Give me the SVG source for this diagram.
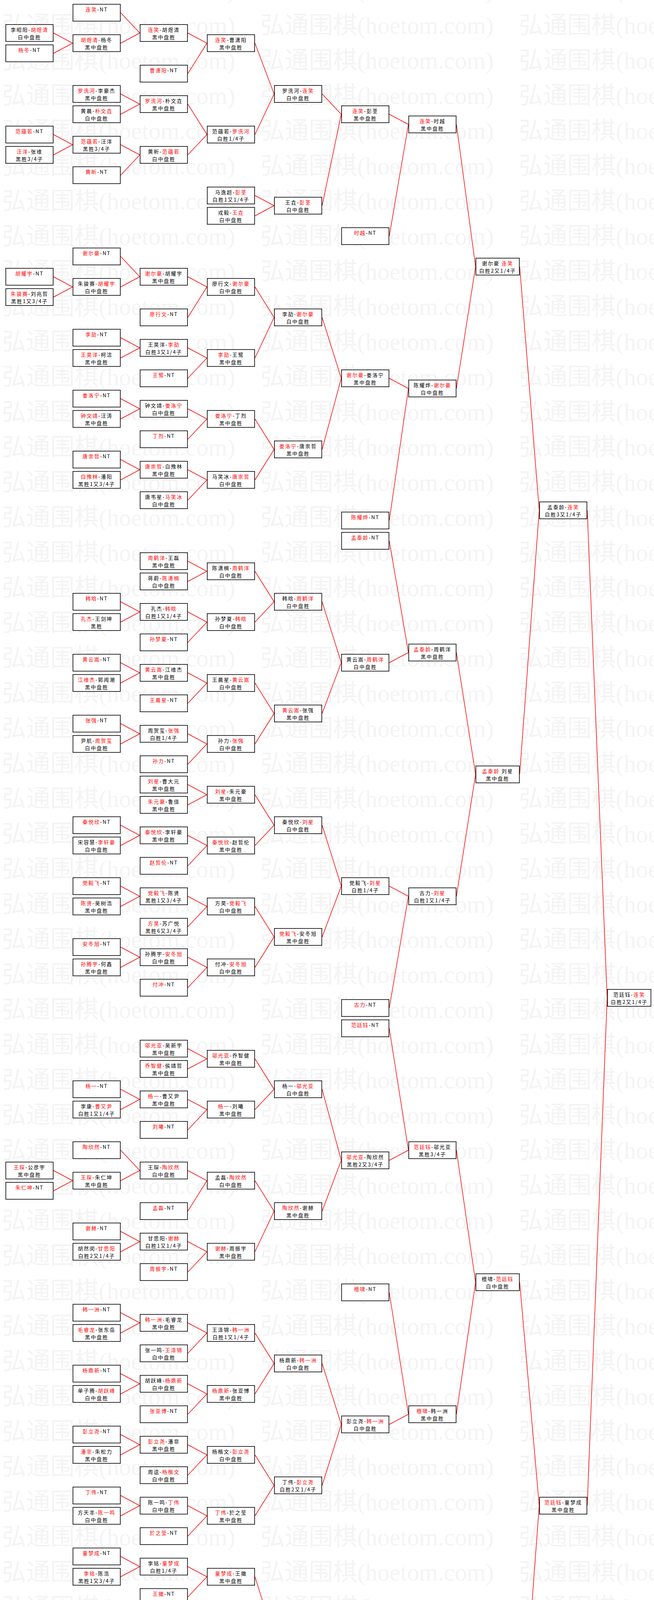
<svg xmlns="http://www.w3.org/2000/svg" width="1675" height="5109" viewBox="0 0 1675 5109">
<style>
.b{fill:#fff;stroke:#000;stroke-width:1.6}
.t{font-family:"Noto Sans CJK SC","Liberation Sans",sans-serif;font-size:13px;letter-spacing:2px;text-anchor:middle;fill:#000}
.r{fill:#f00}
.w{font-family:"Liberation Serif","Noto Sans CJK SC",serif;font-size:62px;fill:#f4f4f4}
#connectors path{fill:none;stroke:#f00;stroke-width:1.5}
</style>
<defs>
<pattern id="wm" x="0" y="30" width="662" height="90" patternUnits="userSpaceOnUse"><text class="w" x="5" y="56">弘通围棋(hoetom.com)</text></pattern>
</defs>
<rect width="1675" height="5109" fill="#fff"/>
<rect width="1675" height="5109" fill="url(#wm)"/>
<g id="connectors">
<path d="M137 84.5L186 110.5L137 136.5"/>
<path d="M137 344.5L186 370.5L137 396.5"/>
<path d="M137 708.5L186 734.5L137 760.5"/>
<path d="M137 2996.5L186 3022.5L137 3048.5"/>
<path d="M137 4140.5L186 4166.5L137 4192.5"/>
<path d="M137 4296.5L186 4322.5L137 4348.5"/>
<path d="M309 32.5L358 84.5L309 110.5"/>
<path d="M309 240.5L358 266.5L309 292.5"/>
<path d="M309 370.5L358 396.5L309 448.5"/>
<path d="M309 656.5L358 708.5L309 734.5"/>
<path d="M309 864.5L358 890.5L309 916.5"/>
<path d="M309 1020.5L358 1046.5L309 1072.5"/>
<path d="M309 1176.5L358 1202.5L309 1228.5"/>
<path d="M309 1540.5L358 1566.5L309 1592.5"/>
<path d="M309 1696.5L358 1722.5L309 1748.5"/>
<path d="M309 1852.5L358 1878.5L309 1904.5"/>
<path d="M309 2112.5L358 2138.5L309 2164.5"/>
<path d="M309 2268.5L358 2294.5L309 2320.5"/>
<path d="M309 2424.5L358 2450.5L309 2476.5"/>
<path d="M309 2788.5L358 2814.5L309 2840.5"/>
<path d="M309 2944.5L358 2996.5L309 3022.5"/>
<path d="M309 3152.5L358 3178.5L309 3204.5"/>
<path d="M309 3360.5L358 3386.5L309 3412.5"/>
<path d="M309 3516.5L358 3542.5L309 3568.5"/>
<path d="M309 3672.5L358 3698.5L309 3724.5"/>
<path d="M309 3828.5L358 3854.5L309 3880.5"/>
<path d="M309 3984.5L358 4010.5L309 4036.5"/>
<path d="M309 4166.5L358 4192.5L309 4244.5"/>
<path d="M309 4322.5L358 4348.5L309 4400.5"/>
<path d="M481 84.5L530 110.5L481 188.5"/>
<path d="M481 266.5L530 344.5L481 396.5"/>
<path d="M481 708.5L530 734.5L481 812.5"/>
<path d="M481 890.5L530 916.5L481 968.5"/>
<path d="M481 1046.5L530 1072.5L481 1124.5"/>
<path d="M481 1202.5L530 1228.5L481 1280.5"/>
<path d="M481 1436.5L530 1462.5L481 1488.5"/>
<path d="M481 1566.5L530 1592.5L481 1644.5"/>
<path d="M481 1722.5L530 1748.5L481 1800.5"/>
<path d="M481 1878.5L530 1904.5L481 1956.5"/>
<path d="M481 2008.5L530 2034.5L481 2060.5"/>
<path d="M481 2138.5L530 2164.5L481 2216.5"/>
<path d="M481 2294.5L530 2320.5L481 2372.5"/>
<path d="M481 2450.5L530 2476.5L481 2528.5"/>
<path d="M481 2684.5L530 2710.5L481 2736.5"/>
<path d="M481 2814.5L530 2840.5L481 2892.5"/>
<path d="M481 2996.5L530 3022.5L481 3100.5"/>
<path d="M481 3178.5L530 3204.5L481 3256.5"/>
<path d="M481 3386.5L530 3412.5L481 3464.5"/>
<path d="M481 3542.5L530 3568.5L481 3620.5"/>
<path d="M481 3698.5L530 3724.5L481 3776.5"/>
<path d="M481 3854.5L530 3880.5L481 3932.5"/>
<path d="M481 4010.5L530 4036.5L481 4088.5"/>
<path d="M481 4192.5L530 4270.5L481 4348.5"/>
<path d="M481 4452.5L530 4478.5L481 4504.5"/>
<path d="M481 4660.5L530 4686.5L481 4712.5"/>
<path d="M481 4764.5L530 4790.5L481 4816.5"/>
<path d="M481 4868.5L530 4894.5L481 4920.5"/>
<path d="M481 4972.5L530 4998.5L481 5024.5"/>
<path d="M653 110.5L702 240.5L653 344.5"/>
<path d="M653 500.5L702 526.5L653 552.5"/>
<path d="M653 734.5L702 812.5L653 916.5"/>
<path d="M653 1072.5L702 1150.5L653 1228.5"/>
<path d="M653 1462.5L702 1540.5L653 1592.5"/>
<path d="M653 1748.5L702 1826.5L653 1904.5"/>
<path d="M653 2034.5L702 2112.5L653 2164.5"/>
<path d="M653 2320.5L702 2398.5L653 2476.5"/>
<path d="M653 2710.5L702 2788.5L653 2840.5"/>
<path d="M653 3022.5L702 3100.5L653 3204.5"/>
<path d="M653 3412.5L702 3490.5L653 3568.5"/>
<path d="M653 3724.5L702 3802.5L653 3880.5"/>
<path d="M653 4036.5L702 4192.5L653 4270.5"/>
<path d="M653 4478.5L702 4504.5L653 4556.5"/>
<path d="M653 4686.5L702 4738.5L653 4790.5"/>
<path d="M653 4894.5L702 4946.5L653 4998.5"/>
<path d="M825 240.5L874 292.5L825 526.5"/>
<path d="M825 812.5L874 968.5L825 1150.5"/>
<path d="M825 1540.5L874 1696.5L825 1826.5"/>
<path d="M825 2112.5L874 2268.5L825 2398.5"/>
<path d="M825 2788.5L874 2970.5L825 3100.5"/>
<path d="M825 3490.5L874 3646.5L825 3802.5"/>
<path d="M825 4192.5L874 4270.5L825 4504.5"/>
<path d="M825 4738.5L874 4842.5L825 4946.5"/>
<path d="M997 292.5L1046 318.5L997 604.5"/>
<path d="M997 968.5L1046 994.5L997 1332.5"/>
<path d="M997 1384.5L1046 1670.5L997 1696.5"/>
<path d="M997 2268.5L1046 2294.5L997 2580.5"/>
<path d="M997 2632.5L1046 2944.5L997 2970.5"/>
<path d="M997 3308.5L1046 3620.5L997 3646.5"/>
<path d="M997 4270.5L1046 4296.5L997 4608.5"/>
<path d="M997 4842.5L1046 4868.5L997 5076.5"/>
<path d="M1169 318.5L1218 682.5L1169 994.5"/>
<path d="M1169 1670.5L1218 1982.5L1169 2294.5"/>
<path d="M1169 2944.5L1218 3282.5L1169 3620.5"/>
<path d="M1169 4296.5L1218 4530.5L1169 4868.5"/>
<path d="M1331 682.5L1381 1306.5L1331 1982.5"/>
<path d="M1331 3282.5L1381 3854.5L1331 4530.5"/>
<path d="M1504 1306.5L1555 2554.5L1504 3854.5"/>
</g>
<!-- Column A -->
<g id="A2" transform="translate(14,62)"><rect class="b" x=".8" y=".8" width="121.4" height="43.4"/><text class="t" x="61.5" y="19">李昭阳-<tspan class="r">胡煜清</tspan></text><text class="t" x="61.5" y="38">白中盘胜</text></g>
<g id="A4" transform="translate(14,114)"><rect class="b" x=".8" y=".8" width="121.4" height="43.4"/><text class="t" x="61.5" y="19"><tspan class="r">杨冬</tspan>-NT</text></g>
<g id="A12" transform="translate(14,322)"><rect class="b" x=".8" y=".8" width="121.4" height="43.4"/><text class="t" x="61.5" y="19"><tspan class="r">范蕴若</tspan>-NT</text></g>
<g id="A14" transform="translate(14,374)"><rect class="b" x=".8" y=".8" width="121.4" height="43.4"/><text class="t" x="61.5" y="19"><tspan class="r">汪洋</tspan>-张维</text><text class="t" x="61.5" y="38">黑胜3/4子</text></g>
<g id="A26" transform="translate(14,686)"><rect class="b" x=".8" y=".8" width="121.4" height="43.4"/><text class="t" x="61.5" y="19"><tspan class="r">胡耀宇</tspan>-NT</text></g>
<g id="A28" transform="translate(14,738)"><rect class="b" x=".8" y=".8" width="121.4" height="43.4"/><text class="t" x="61.5" y="19"><tspan class="r">朱骏赛</tspan>-刘兆哲</text><text class="t" x="61.5" y="38">黑胜1又3/4子</text></g>
<g id="A114" transform="translate(14,2974)"><rect class="b" x=".8" y=".8" width="121.4" height="43.4"/><text class="t" x="61.5" y="19"><tspan class="r">王琛</tspan>-公彦宇</text><text class="t" x="61.5" y="38">黑中盘胜</text></g>
<g id="A116" transform="translate(14,3026)"><rect class="b" x=".8" y=".8" width="121.4" height="43.4"/><text class="t" x="61.5" y="19"><tspan class="r">朱仁坤</tspan>-NT</text></g>
<g id="A158" transform="translate(14,4118)"><rect class="b" x=".8" y=".8" width="121.4" height="43.4"/><text class="t" x="61.5" y="19"><tspan class="r">郑淼鑫</tspan>-NT</text></g>
<g id="A160" transform="translate(14,4170)"><rect class="b" x=".8" y=".8" width="121.4" height="43.4"/><text class="t" x="61.5" y="19"><tspan class="r">张学斌</tspan>-崔灿</text><text class="t" x="61.5" y="38">黑中盘胜</text></g>
<g id="A164" transform="translate(14,4274)"><rect class="b" x=".8" y=".8" width="121.4" height="43.4"/><text class="t" x="61.5" y="19"><tspan class="r">杨啸天</tspan>-NT</text></g>
<g id="A166" transform="translate(14,4326)"><rect class="b" x=".8" y=".8" width="121.4" height="43.4"/><text class="t" x="61.5" y="19"><tspan class="r">国宇征</tspan>-张昊</text><text class="t" x="61.5" y="38">黑胜3/4子</text></g>
<!-- Column B -->
<g id="B0" transform="translate(186,10)"><rect class="b" x=".8" y=".8" width="121.4" height="43.4"/><text class="t" x="61.5" y="19"><tspan class="r">连笑</tspan>-NT</text></g>
<g id="B3" transform="translate(186,88)"><rect class="b" x=".8" y=".8" width="121.4" height="43.4"/><text class="t" x="61.5" y="19"><tspan class="r">胡煜清</tspan>-杨冬</text><text class="t" x="61.5" y="38">黑中盘胜</text></g>
<g id="B8" transform="translate(186,218)"><rect class="b" x=".8" y=".8" width="121.4" height="43.4"/><text class="t" x="61.5" y="19"><tspan class="r">罗洗河</tspan>-李豪杰</text><text class="t" x="61.5" y="38">黑中盘胜</text></g>
<g id="B10" transform="translate(186,270)"><rect class="b" x=".8" y=".8" width="121.4" height="43.4"/><text class="t" x="61.5" y="19">黄晨-<tspan class="r">朴文垚</tspan></text><text class="t" x="61.5" y="38">白中盘胜</text></g>
<g id="B13" transform="translate(186,348)"><rect class="b" x=".8" y=".8" width="121.4" height="43.4"/><text class="t" x="61.5" y="19"><tspan class="r">范蕴若</tspan>-汪洋</text><text class="t" x="61.5" y="38">黑胜3/4子</text></g>
<g id="B16" transform="translate(186,426)"><rect class="b" x=".8" y=".8" width="121.4" height="43.4"/><text class="t" x="61.5" y="19"><tspan class="r">黄昕</tspan>-NT</text></g>
<g id="B24" transform="translate(186,634)"><rect class="b" x=".8" y=".8" width="121.4" height="43.4"/><text class="t" x="61.5" y="19"><tspan class="r">谢尔豪</tspan>-NT</text></g>
<g id="B27" transform="translate(186,712)"><rect class="b" x=".8" y=".8" width="121.4" height="43.4"/><text class="t" x="61.5" y="19">朱骏赛-<tspan class="r">胡耀宇</tspan></text><text class="t" x="61.5" y="38">白中盘胜</text></g>
<g id="B32" transform="translate(186,842)"><rect class="b" x=".8" y=".8" width="121.4" height="43.4"/><text class="t" x="61.5" y="19"><tspan class="r">李劼</tspan>-NT</text></g>
<g id="B34" transform="translate(186,894)"><rect class="b" x=".8" y=".8" width="121.4" height="43.4"/><text class="t" x="61.5" y="19"><tspan class="r">王昊洋</tspan>-柯洁</text><text class="t" x="61.5" y="38">黑中盘胜</text></g>
<g id="B38" transform="translate(186,998)"><rect class="b" x=".8" y=".8" width="121.4" height="43.4"/><text class="t" x="61.5" y="19"><tspan class="r">娄洛宁</tspan>-NT</text></g>
<g id="B40" transform="translate(186,1050)"><rect class="b" x=".8" y=".8" width="121.4" height="43.4"/><text class="t" x="61.5" y="19"><tspan class="r">钟文靖</tspan>-汪涛</text><text class="t" x="61.5" y="38">黑中盘胜</text></g>
<g id="B44" transform="translate(186,1154)"><rect class="b" x=".8" y=".8" width="121.4" height="43.4"/><text class="t" x="61.5" y="19"><tspan class="r">唐崇哲</tspan>-NT</text></g>
<g id="B46" transform="translate(186,1206)"><rect class="b" x=".8" y=".8" width="121.4" height="43.4"/><text class="t" x="61.5" y="19"><tspan class="r">白豫林</tspan>-潘阳</text><text class="t" x="61.5" y="38">黑胜1又3/4子</text></g>
<g id="B58" transform="translate(186,1518)"><rect class="b" x=".8" y=".8" width="121.4" height="43.4"/><text class="t" x="61.5" y="19"><tspan class="r">韩晗</tspan>-NT</text></g>
<g id="B60" transform="translate(186,1570)"><rect class="b" x=".8" y=".8" width="121.4" height="43.4"/><text class="t" x="61.5" y="19"><tspan class="r">孔杰</tspan>-王剑坤</text><text class="t" x="61.5" y="38">黑胜</text></g>
<g id="B64" transform="translate(186,1674)"><rect class="b" x=".8" y=".8" width="121.4" height="43.4"/><text class="t" x="61.5" y="19"><tspan class="r">黄云嵩</tspan>-NT</text></g>
<g id="B66" transform="translate(186,1726)"><rect class="b" x=".8" y=".8" width="121.4" height="43.4"/><text class="t" x="61.5" y="19"><tspan class="r">江维杰</tspan>-郭闻潮</text><text class="t" x="61.5" y="38">黑中盘胜</text></g>
<g id="B70" transform="translate(186,1830)"><rect class="b" x=".8" y=".8" width="121.4" height="43.4"/><text class="t" x="61.5" y="19"><tspan class="r">张强</tspan>-NT</text></g>
<g id="B72" transform="translate(186,1882)"><rect class="b" x=".8" y=".8" width="121.4" height="43.4"/><text class="t" x="61.5" y="19">尹航-<tspan class="r">周贺玺</tspan></text><text class="t" x="61.5" y="38">白中盘胜</text></g>
<g id="B80" transform="translate(186,2090)"><rect class="b" x=".8" y=".8" width="121.4" height="43.4"/><text class="t" x="61.5" y="19"><tspan class="r">秦悦欣</tspan>-NT</text></g>
<g id="B82" transform="translate(186,2142)"><rect class="b" x=".8" y=".8" width="121.4" height="43.4"/><text class="t" x="61.5" y="19">宋容慧-<tspan class="r">李轩豪</tspan></text><text class="t" x="61.5" y="38">白中盘胜</text></g>
<g id="B86" transform="translate(186,2246)"><rect class="b" x=".8" y=".8" width="121.4" height="43.4"/><text class="t" x="61.5" y="19"><tspan class="r">党毅飞</tspan>-NT</text></g>
<g id="B88" transform="translate(186,2298)"><rect class="b" x=".8" y=".8" width="121.4" height="43.4"/><text class="t" x="61.5" y="19"><tspan class="r">陈贤</tspan>-吴树浩</text><text class="t" x="61.5" y="38">黑中盘胜</text></g>
<g id="B92" transform="translate(186,2402)"><rect class="b" x=".8" y=".8" width="121.4" height="43.4"/><text class="t" x="61.5" y="19"><tspan class="r">安冬旭</tspan>-NT</text></g>
<g id="B94" transform="translate(186,2454)"><rect class="b" x=".8" y=".8" width="121.4" height="43.4"/><text class="t" x="61.5" y="19"><tspan class="r">孙腾宇</tspan>-何鑫</text><text class="t" x="61.5" y="38">黑中盘胜</text></g>
<g id="B106" transform="translate(186,2766)"><rect class="b" x=".8" y=".8" width="121.4" height="43.4"/><text class="t" x="61.5" y="19"><tspan class="r">杨一</tspan>-NT</text></g>
<g id="B108" transform="translate(186,2818)"><rect class="b" x=".8" y=".8" width="121.4" height="43.4"/><text class="t" x="61.5" y="19">李康-<tspan class="r">曹又尹</tspan></text><text class="t" x="61.5" y="38">白胜1又1/4子</text></g>
<g id="B112" transform="translate(186,2922)"><rect class="b" x=".8" y=".8" width="121.4" height="43.4"/><text class="t" x="61.5" y="19"><tspan class="r">陶欣然</tspan>-NT</text></g>
<g id="B115" transform="translate(186,3000)"><rect class="b" x=".8" y=".8" width="121.4" height="43.4"/><text class="t" x="61.5" y="19"><tspan class="r">王琛</tspan>-朱仁坤</text><text class="t" x="61.5" y="38">黑中盘胜</text></g>
<g id="B120" transform="translate(186,3130)"><rect class="b" x=".8" y=".8" width="121.4" height="43.4"/><text class="t" x="61.5" y="19"><tspan class="r">谢赫</tspan>-NT</text></g>
<g id="B122" transform="translate(186,3182)"><rect class="b" x=".8" y=".8" width="121.4" height="43.4"/><text class="t" x="61.5" y="19">胡然闵-<tspan class="r">甘思阳</tspan></text><text class="t" x="61.5" y="38">白胜2又1/4子</text></g>
<g id="B128" transform="translate(186,3338)"><rect class="b" x=".8" y=".8" width="121.4" height="43.4"/><text class="t" x="61.5" y="19"><tspan class="r">韩一洲</tspan>-NT</text></g>
<g id="B130" transform="translate(186,3390)"><rect class="b" x=".8" y=".8" width="121.4" height="43.4"/><text class="t" x="61.5" y="19"><tspan class="r">毛睿龙</tspan>-张东岳</text><text class="t" x="61.5" y="38">黑中盘胜</text></g>
<g id="B134" transform="translate(186,3494)"><rect class="b" x=".8" y=".8" width="121.4" height="43.4"/><text class="t" x="61.5" y="19"><tspan class="r">杨鼎新</tspan>-NT</text></g>
<g id="B136" transform="translate(186,3546)"><rect class="b" x=".8" y=".8" width="121.4" height="43.4"/><text class="t" x="61.5" y="19">单子腾-<tspan class="r">胡跃峰</tspan></text><text class="t" x="61.5" y="38">白中盘胜</text></g>
<g id="B140" transform="translate(186,3650)"><rect class="b" x=".8" y=".8" width="121.4" height="43.4"/><text class="t" x="61.5" y="19"><tspan class="r">彭立尧</tspan>-NT</text></g>
<g id="B142" transform="translate(186,3702)"><rect class="b" x=".8" y=".8" width="121.4" height="43.4"/><text class="t" x="61.5" y="19"><tspan class="r">潘非</tspan>-朱松力</text><text class="t" x="61.5" y="38">黑中盘胜</text></g>
<g id="B146" transform="translate(186,3806)"><rect class="b" x=".8" y=".8" width="121.4" height="43.4"/><text class="t" x="61.5" y="19"><tspan class="r">丁伟</tspan>-NT</text></g>
<g id="B148" transform="translate(186,3858)"><rect class="b" x=".8" y=".8" width="121.4" height="43.4"/><text class="t" x="61.5" y="19">方天丰-<tspan class="r">陈一鸣</tspan></text><text class="t" x="61.5" y="38">白中盘胜</text></g>
<g id="B152" transform="translate(186,3962)"><rect class="b" x=".8" y=".8" width="121.4" height="43.4"/><text class="t" x="61.5" y="19"><tspan class="r">童梦成</tspan>-NT</text></g>
<g id="B154" transform="translate(186,4014)"><rect class="b" x=".8" y=".8" width="121.4" height="43.4"/><text class="t" x="61.5" y="19"><tspan class="r">李铭</tspan>-陈浩</text><text class="t" x="61.5" y="38">黑胜1又3/4子</text></g>
<g id="B159" transform="translate(186,4144)"><rect class="b" x=".8" y=".8" width="121.4" height="43.4"/><text class="t" x="61.5" y="19">张学斌-<tspan class="r">郑淼鑫</tspan></text><text class="t" x="61.5" y="38">白胜1/4子</text></g>
<g id="B162" transform="translate(186,4222)"><rect class="b" x=".8" y=".8" width="121.4" height="43.4"/><text class="t" x="61.5" y="19"><tspan class="r">常昊</tspan>-NT</text></g>
<g id="B165" transform="translate(186,4300)"><rect class="b" x=".8" y=".8" width="121.4" height="43.4"/><text class="t" x="61.5" y="19">国宇征-<tspan class="r">杨啸天</tspan></text><text class="t" x="61.5" y="38">白中盘胜</text></g>
<g id="B168" transform="translate(186,4378)"><rect class="b" x=".8" y=".8" width="121.4" height="43.4"/><text class="t" x="61.5" y="19"><tspan class="r">古灵益</tspan>-NT</text></g>
<!-- Column C -->
<g id="C2" transform="translate(358,62)"><rect class="b" x=".8" y=".8" width="121.4" height="43.4"/><text class="t" x="61.5" y="19"><tspan class="r">连笑</tspan>-胡煜清</text><text class="t" x="61.5" y="38">黑中盘胜</text></g>
<g id="C6" transform="translate(358,166)"><rect class="b" x=".8" y=".8" width="121.4" height="43.4"/><text class="t" x="61.5" y="19"><tspan class="r">曹潇阳</tspan>-NT</text></g>
<g id="C9" transform="translate(358,244)"><rect class="b" x=".8" y=".8" width="121.4" height="43.4"/><text class="t" x="61.5" y="19"><tspan class="r">罗洗河</tspan>-朴文垚</text><text class="t" x="61.5" y="38">黑中盘胜</text></g>
<g id="C14" transform="translate(358,374)"><rect class="b" x=".8" y=".8" width="121.4" height="43.4"/><text class="t" x="61.5" y="19">黄昕-<tspan class="r">范蕴若</tspan></text><text class="t" x="61.5" y="38">白中盘胜</text></g>
<g id="C26" transform="translate(358,686)"><rect class="b" x=".8" y=".8" width="121.4" height="43.4"/><text class="t" x="61.5" y="19"><tspan class="r">谢尔豪</tspan>-胡耀宇</text><text class="t" x="61.5" y="38">黑中盘胜</text></g>
<g id="C30" transform="translate(358,790)"><rect class="b" x=".8" y=".8" width="121.4" height="43.4"/><text class="t" x="61.5" y="19"><tspan class="r">廖行文</tspan>-NT</text></g>
<g id="C33" transform="translate(358,868)"><rect class="b" x=".8" y=".8" width="121.4" height="43.4"/><text class="t" x="61.5" y="19">王昊洋-<tspan class="r">李劼</tspan></text><text class="t" x="61.5" y="38">白胜3又1/4子</text></g>
<g id="C36" transform="translate(358,946)"><rect class="b" x=".8" y=".8" width="121.4" height="43.4"/><text class="t" x="61.5" y="19"><tspan class="r">王鹭</tspan>-NT</text></g>
<g id="C39" transform="translate(358,1024)"><rect class="b" x=".8" y=".8" width="121.4" height="43.4"/><text class="t" x="61.5" y="19">钟文靖-<tspan class="r">娄洛宁</tspan></text><text class="t" x="61.5" y="38">白中盘胜</text></g>
<g id="C42" transform="translate(358,1102)"><rect class="b" x=".8" y=".8" width="121.4" height="43.4"/><text class="t" x="61.5" y="19"><tspan class="r">丁烈</tspan>-NT</text></g>
<g id="C45" transform="translate(358,1180)"><rect class="b" x=".8" y=".8" width="121.4" height="43.4"/><text class="t" x="61.5" y="19"><tspan class="r">唐崇哲</tspan>-白豫林</text><text class="t" x="61.5" y="38">黑中盘胜</text></g>
<g id="C48" transform="translate(358,1258)"><rect class="b" x=".8" y=".8" width="121.4" height="43.4"/><text class="t" x="61.5" y="19">唐韦星-<tspan class="r">马笑冰</tspan></text><text class="t" x="61.5" y="38">白中盘胜</text></g>
<g id="C54" transform="translate(358,1414)"><rect class="b" x=".8" y=".8" width="121.4" height="43.4"/><text class="t" x="61.5" y="19"><tspan class="r">周鹤洋</tspan>-王磊</text><text class="t" x="61.5" y="38">黑中盘胜</text></g>
<g id="C56" transform="translate(358,1466)"><rect class="b" x=".8" y=".8" width="121.4" height="43.4"/><text class="t" x="61.5" y="19">蒋蔚-<tspan class="r">陈潇楠</tspan></text><text class="t" x="61.5" y="38">白中盘胜</text></g>
<g id="C59" transform="translate(358,1544)"><rect class="b" x=".8" y=".8" width="121.4" height="43.4"/><text class="t" x="61.5" y="19">孔杰-<tspan class="r">韩晗</tspan></text><text class="t" x="61.5" y="38">白胜1又1/4子</text></g>
<g id="C62" transform="translate(358,1622)"><rect class="b" x=".8" y=".8" width="121.4" height="43.4"/><text class="t" x="61.5" y="19"><tspan class="r">孙梦夏</tspan>-NT</text></g>
<g id="C65" transform="translate(358,1700)"><rect class="b" x=".8" y=".8" width="121.4" height="43.4"/><text class="t" x="61.5" y="19"><tspan class="r">黄云嵩</tspan>-江维杰</text><text class="t" x="61.5" y="38">黑中盘胜</text></g>
<g id="C68" transform="translate(358,1778)"><rect class="b" x=".8" y=".8" width="121.4" height="43.4"/><text class="t" x="61.5" y="19"><tspan class="r">王晨星</tspan>-NT</text></g>
<g id="C71" transform="translate(358,1856)"><rect class="b" x=".8" y=".8" width="121.4" height="43.4"/><text class="t" x="61.5" y="19">周贺玺-<tspan class="r">张强</tspan></text><text class="t" x="61.5" y="38">白胜1/4子</text></g>
<g id="C74" transform="translate(358,1934)"><rect class="b" x=".8" y=".8" width="121.4" height="43.4"/><text class="t" x="61.5" y="19"><tspan class="r">孙力</tspan>-NT</text></g>
<g id="C76" transform="translate(358,1986)"><rect class="b" x=".8" y=".8" width="121.4" height="43.4"/><text class="t" x="61.5" y="19"><tspan class="r">刘星</tspan>-曹大元</text><text class="t" x="61.5" y="38">黑中盘胜</text></g>
<g id="C78" transform="translate(358,2038)"><rect class="b" x=".8" y=".8" width="121.4" height="43.4"/><text class="t" x="61.5" y="19"><tspan class="r">朱元豪</tspan>-鲁佳</text><text class="t" x="61.5" y="38">黑中盘胜</text></g>
<g id="C81" transform="translate(358,2116)"><rect class="b" x=".8" y=".8" width="121.4" height="43.4"/><text class="t" x="61.5" y="19"><tspan class="r">秦悦欣</tspan>-李轩豪</text><text class="t" x="61.5" y="38">黑中盘胜</text></g>
<g id="C84" transform="translate(358,2194)"><rect class="b" x=".8" y=".8" width="121.4" height="43.4"/><text class="t" x="61.5" y="19"><tspan class="r">赵哲伦</tspan>-NT</text></g>
<g id="C87" transform="translate(358,2272)"><rect class="b" x=".8" y=".8" width="121.4" height="43.4"/><text class="t" x="61.5" y="19"><tspan class="r">党毅飞</tspan>-陈贤</text><text class="t" x="61.5" y="38">黑胜1又3/4子</text></g>
<g id="C90" transform="translate(358,2350)"><rect class="b" x=".8" y=".8" width="121.4" height="43.4"/><text class="t" x="61.5" y="19"><tspan class="r">方昊</tspan>-苏广悦</text><text class="t" x="61.5" y="38">黑胜6又3/4子</text></g>
<g id="C93" transform="translate(358,2428)"><rect class="b" x=".8" y=".8" width="121.4" height="43.4"/><text class="t" x="61.5" y="19">孙腾宇-<tspan class="r">安冬旭</tspan></text><text class="t" x="61.5" y="38">白中盘胜</text></g>
<g id="C96" transform="translate(358,2506)"><rect class="b" x=".8" y=".8" width="121.4" height="43.4"/><text class="t" x="61.5" y="19"><tspan class="r">付冲</tspan>-NT</text></g>
<g id="C102" transform="translate(358,2662)"><rect class="b" x=".8" y=".8" width="121.4" height="43.4"/><text class="t" x="61.5" y="19"><tspan class="r">邬光亚</tspan>-吴新宇</text><text class="t" x="61.5" y="38">黑中盘胜</text></g>
<g id="C104" transform="translate(358,2714)"><rect class="b" x=".8" y=".8" width="121.4" height="43.4"/><text class="t" x="61.5" y="19"><tspan class="r">乔智健</tspan>-侯靖哲</text><text class="t" x="61.5" y="38">黑中盘胜</text></g>
<g id="C107" transform="translate(358,2792)"><rect class="b" x=".8" y=".8" width="121.4" height="43.4"/><text class="t" x="61.5" y="19"><tspan class="r">杨一</tspan>-曹又尹</text><text class="t" x="61.5" y="38">黑中盘胜</text></g>
<g id="C110" transform="translate(358,2870)"><rect class="b" x=".8" y=".8" width="121.4" height="43.4"/><text class="t" x="61.5" y="19"><tspan class="r">刘曦</tspan>-NT</text></g>
<g id="C114" transform="translate(358,2974)"><rect class="b" x=".8" y=".8" width="121.4" height="43.4"/><text class="t" x="61.5" y="19">王琛-<tspan class="r">陶欣然</tspan></text><text class="t" x="61.5" y="38">白中盘胜</text></g>
<g id="C118" transform="translate(358,3078)"><rect class="b" x=".8" y=".8" width="121.4" height="43.4"/><text class="t" x="61.5" y="19"><tspan class="r">孟磊</tspan>-NT</text></g>
<g id="C121" transform="translate(358,3156)"><rect class="b" x=".8" y=".8" width="121.4" height="43.4"/><text class="t" x="61.5" y="19">甘思阳-<tspan class="r">谢赫</tspan></text><text class="t" x="61.5" y="38">白胜1又1/4子</text></g>
<g id="C124" transform="translate(358,3234)"><rect class="b" x=".8" y=".8" width="121.4" height="43.4"/><text class="t" x="61.5" y="19"><tspan class="r">周振宇</tspan>-NT</text></g>
<g id="C129" transform="translate(358,3364)"><rect class="b" x=".8" y=".8" width="121.4" height="43.4"/><text class="t" x="61.5" y="19"><tspan class="r">韩一洲</tspan>-毛睿龙</text><text class="t" x="61.5" y="38">黑中盘胜</text></g>
<g id="C132" transform="translate(358,3442)"><rect class="b" x=".8" y=".8" width="121.4" height="43.4"/><text class="t" x="61.5" y="19">张一鸣-<tspan class="r">王泽锦</tspan></text><text class="t" x="61.5" y="38">白中盘胜</text></g>
<g id="C135" transform="translate(358,3520)"><rect class="b" x=".8" y=".8" width="121.4" height="43.4"/><text class="t" x="61.5" y="19">胡跃峰-<tspan class="r">杨鼎新</tspan></text><text class="t" x="61.5" y="38">白中盘胜</text></g>
<g id="C138" transform="translate(358,3598)"><rect class="b" x=".8" y=".8" width="121.4" height="43.4"/><text class="t" x="61.5" y="19"><tspan class="r">张亚博</tspan>-NT</text></g>
<g id="C141" transform="translate(358,3676)"><rect class="b" x=".8" y=".8" width="121.4" height="43.4"/><text class="t" x="61.5" y="19"><tspan class="r">彭立尧</tspan>-潘非</text><text class="t" x="61.5" y="38">黑中盘胜</text></g>
<g id="C144" transform="translate(358,3754)"><rect class="b" x=".8" y=".8" width="121.4" height="43.4"/><text class="t" x="61.5" y="19">周逵-<tspan class="r">杨楷文</tspan></text><text class="t" x="61.5" y="38">白中盘胜</text></g>
<g id="C147" transform="translate(358,3832)"><rect class="b" x=".8" y=".8" width="121.4" height="43.4"/><text class="t" x="61.5" y="19">陈一鸣-<tspan class="r">丁伟</tspan></text><text class="t" x="61.5" y="38">白中盘胜</text></g>
<g id="C150" transform="translate(358,3910)"><rect class="b" x=".8" y=".8" width="121.4" height="43.4"/><text class="t" x="61.5" y="19"><tspan class="r">於之莹</tspan>-NT</text></g>
<g id="C153" transform="translate(358,3988)"><rect class="b" x=".8" y=".8" width="121.4" height="43.4"/><text class="t" x="61.5" y="19">李铭-<tspan class="r">童梦成</tspan></text><text class="t" x="61.5" y="38">白胜1/4子</text></g>
<g id="C156" transform="translate(358,4066)"><rect class="b" x=".8" y=".8" width="121.4" height="43.4"/><text class="t" x="61.5" y="19"><tspan class="r">王撖</tspan>-NT</text></g>
<g id="C160" transform="translate(358,4170)"><rect class="b" x=".8" y=".8" width="121.4" height="43.4"/><text class="t" x="61.5" y="19">常昊-<tspan class="r">郑淼鑫</tspan></text><text class="t" x="61.5" y="38">白中盘胜</text></g>
<g id="C166" transform="translate(358,4326)"><rect class="b" x=".8" y=".8" width="121.4" height="43.4"/><text class="t" x="61.5" y="19"><tspan class="r">杨啸天</tspan>-古灵益</text><text class="t" x="61.5" y="38">黑胜3/4子</text></g>
<g id="C170" transform="translate(358,4430)"><rect class="b" x=".8" y=".8" width="121.4" height="43.4"/><text class="t" x="61.5" y="19"><tspan class="r">杨潜</tspan>-许振宇</text><text class="t" x="61.5" y="38">黑中盘胜</text></g>
<g id="C172" transform="translate(358,4482)"><rect class="b" x=".8" y=".8" width="121.4" height="43.4"/><text class="t" x="61.5" y="19"><tspan class="r">李喆</tspan>-张英挺</text><text class="t" x="61.5" y="38">黑中盘胜</text></g>
<g id="C178" transform="translate(358,4638)"><rect class="b" x=".8" y=".8" width="121.4" height="43.4"/><text class="t" x="61.5" y="19"><tspan class="r">邱峻</tspan>-邓歆懿</text><text class="t" x="61.5" y="38">黑中盘胜</text></g>
<g id="C180" transform="translate(358,4690)"><rect class="b" x=".8" y=".8" width="121.4" height="43.4"/><text class="t" x="61.5" y="19"><tspan class="r">张涛</tspan>-芮乃伟</text><text class="t" x="61.5" y="38">黑中盘胜</text></g>
<g id="C182" transform="translate(358,4742)"><rect class="b" x=".8" y=".8" width="121.4" height="43.4"/><text class="t" x="61.5" y="19">牛雨田-<tspan class="r">严欢</tspan></text><text class="t" x="61.5" y="38">白中盘胜</text></g>
<g id="C184" transform="translate(358,4794)"><rect class="b" x=".8" y=".8" width="121.4" height="43.4"/><text class="t" x="61.5" y="19"><tspan class="r">唐奕</tspan>-祁立鹤</text><text class="t" x="61.5" y="38">黑中盘胜</text></g>
<g id="C186" transform="translate(358,4846)"><rect class="b" x=".8" y=".8" width="121.4" height="43.4"/><text class="t" x="61.5" y="19">张策-<tspan class="r">柁嘉熹</tspan></text><text class="t" x="61.5" y="38">白中盘胜</text></g>
<g id="C188" transform="translate(358,4898)"><rect class="b" x=".8" y=".8" width="121.4" height="43.4"/><text class="t" x="61.5" y="19">李钦诚-<tspan class="r">夏晨琨</tspan></text><text class="t" x="61.5" y="38">白胜1/4子</text></g>
<g id="C190" transform="translate(358,4950)"><rect class="b" x=".8" y=".8" width="121.4" height="43.4"/><text class="t" x="61.5" y="19"><tspan class="r">张立</tspan>-佟禹林</text><text class="t" x="61.5" y="38">黑中盘胜</text></g>
<g id="C192" transform="translate(358,5002)"><rect class="b" x=".8" y=".8" width="121.4" height="43.4"/><text class="t" x="61.5" y="19"><tspan class="r">蔡竞</tspan>-吴肇毅</text><text class="t" x="61.5" y="38">黑中盘胜</text></g>
<!-- Column D -->
<g id="D3" transform="translate(530,88)"><rect class="b" x=".8" y=".8" width="121.4" height="43.4"/><text class="t" x="61.5" y="19"><tspan class="r">连笑</tspan>-曹潇阳</text><text class="t" x="61.5" y="38">黑中盘胜</text></g>
<g id="D12" transform="translate(530,322)"><rect class="b" x=".8" y=".8" width="121.4" height="43.4"/><text class="t" x="61.5" y="19">范蕴若-<tspan class="r">罗洗河</tspan></text><text class="t" x="61.5" y="38">白胜1/4子</text></g>
<g id="D18" transform="translate(530,478)"><rect class="b" x=".8" y=".8" width="121.4" height="43.4"/><text class="t" x="61.5" y="19">马逸超-<tspan class="r">彭荃</tspan></text><text class="t" x="61.5" y="38">白胜1又1/4子</text></g>
<g id="D20" transform="translate(530,530)"><rect class="b" x=".8" y=".8" width="121.4" height="43.4"/><text class="t" x="61.5" y="19">戎毅-<tspan class="r">王垚</tspan></text><text class="t" x="61.5" y="38">白中盘胜</text></g>
<g id="D27" transform="translate(530,712)"><rect class="b" x=".8" y=".8" width="121.4" height="43.4"/><text class="t" x="61.5" y="19">廖行文-<tspan class="r">谢尔豪</tspan></text><text class="t" x="61.5" y="38">白中盘胜</text></g>
<g id="D34" transform="translate(530,894)"><rect class="b" x=".8" y=".8" width="121.4" height="43.4"/><text class="t" x="61.5" y="19"><tspan class="r">李劼</tspan>-王鹭</text><text class="t" x="61.5" y="38">黑中盘胜</text></g>
<g id="D40" transform="translate(530,1050)"><rect class="b" x=".8" y=".8" width="121.4" height="43.4"/><text class="t" x="61.5" y="19"><tspan class="r">娄洛宁</tspan>-丁烈</text><text class="t" x="61.5" y="38">黑中盘胜</text></g>
<g id="D46" transform="translate(530,1206)"><rect class="b" x=".8" y=".8" width="121.4" height="43.4"/><text class="t" x="61.5" y="19">马笑冰-<tspan class="r">唐崇哲</tspan></text><text class="t" x="61.5" y="38">白中盘胜</text></g>
<g id="D55" transform="translate(530,1440)"><rect class="b" x=".8" y=".8" width="121.4" height="43.4"/><text class="t" x="61.5" y="19">陈潇楠-<tspan class="r">周鹤洋</tspan></text><text class="t" x="61.5" y="38">白中盘胜</text></g>
<g id="D60" transform="translate(530,1570)"><rect class="b" x=".8" y=".8" width="121.4" height="43.4"/><text class="t" x="61.5" y="19">孙梦夏-<tspan class="r">韩晗</tspan></text><text class="t" x="61.5" y="38">白中盘胜</text></g>
<g id="D66" transform="translate(530,1726)"><rect class="b" x=".8" y=".8" width="121.4" height="43.4"/><text class="t" x="61.5" y="19">王晨星-<tspan class="r">黄云嵩</tspan></text><text class="t" x="61.5" y="38">白中盘胜</text></g>
<g id="D72" transform="translate(530,1882)"><rect class="b" x=".8" y=".8" width="121.4" height="43.4"/><text class="t" x="61.5" y="19">孙力-<tspan class="r">张强</tspan></text><text class="t" x="61.5" y="38">白中盘胜</text></g>
<g id="D77" transform="translate(530,2012)"><rect class="b" x=".8" y=".8" width="121.4" height="43.4"/><text class="t" x="61.5" y="19"><tspan class="r">刘星</tspan>-朱元豪</text><text class="t" x="61.5" y="38">黑中盘胜</text></g>
<g id="D82" transform="translate(530,2142)"><rect class="b" x=".8" y=".8" width="121.4" height="43.4"/><text class="t" x="61.5" y="19"><tspan class="r">秦悦欣</tspan>-赵哲伦</text><text class="t" x="61.5" y="38">黑中盘胜</text></g>
<g id="D88" transform="translate(530,2298)"><rect class="b" x=".8" y=".8" width="121.4" height="43.4"/><text class="t" x="61.5" y="19">方昊-<tspan class="r">党毅飞</tspan></text><text class="t" x="61.5" y="38">白中盘胜</text></g>
<g id="D94" transform="translate(530,2454)"><rect class="b" x=".8" y=".8" width="121.4" height="43.4"/><text class="t" x="61.5" y="19">付冲-<tspan class="r">安冬旭</tspan></text><text class="t" x="61.5" y="38">白中盘胜</text></g>
<g id="D103" transform="translate(530,2688)"><rect class="b" x=".8" y=".8" width="121.4" height="43.4"/><text class="t" x="61.5" y="19"><tspan class="r">邬光亚</tspan>-乔智健</text><text class="t" x="61.5" y="38">黑中盘胜</text></g>
<g id="D108" transform="translate(530,2818)"><rect class="b" x=".8" y=".8" width="121.4" height="43.4"/><text class="t" x="61.5" y="19"><tspan class="r">杨一</tspan>-刘曦</text><text class="t" x="61.5" y="38">黑中盘胜</text></g>
<g id="D115" transform="translate(530,3000)"><rect class="b" x=".8" y=".8" width="121.4" height="43.4"/><text class="t" x="61.5" y="19">孟磊-<tspan class="r">陶欣然</tspan></text><text class="t" x="61.5" y="38">白中盘胜</text></g>
<g id="D122" transform="translate(530,3182)"><rect class="b" x=".8" y=".8" width="121.4" height="43.4"/><text class="t" x="61.5" y="19"><tspan class="r">谢赫</tspan>-周振宇</text><text class="t" x="61.5" y="38">黑中盘胜</text></g>
<g id="D130" transform="translate(530,3390)"><rect class="b" x=".8" y=".8" width="121.4" height="43.4"/><text class="t" x="61.5" y="19">王泽锦-<tspan class="r">韩一洲</tspan></text><text class="t" x="61.5" y="38">白胜1又1/4子</text></g>
<g id="D136" transform="translate(530,3546)"><rect class="b" x=".8" y=".8" width="121.4" height="43.4"/><text class="t" x="61.5" y="19"><tspan class="r">杨鼎新</tspan>-张亚博</text><text class="t" x="61.5" y="38">黑中盘胜</text></g>
<g id="D142" transform="translate(530,3702)"><rect class="b" x=".8" y=".8" width="121.4" height="43.4"/><text class="t" x="61.5" y="19">杨楷文-<tspan class="r">彭立尧</tspan></text><text class="t" x="61.5" y="38">白中盘胜</text></g>
<g id="D148" transform="translate(530,3858)"><rect class="b" x=".8" y=".8" width="121.4" height="43.4"/><text class="t" x="61.5" y="19"><tspan class="r">丁伟</tspan>-於之莹</text><text class="t" x="61.5" y="38">黑中盘胜</text></g>
<g id="D154" transform="translate(530,4014)"><rect class="b" x=".8" y=".8" width="121.4" height="43.4"/><text class="t" x="61.5" y="19"><tspan class="r">童梦成</tspan>-王撖</text><text class="t" x="61.5" y="38">黑中盘胜</text></g>
<g id="D163" transform="translate(530,4248)"><rect class="b" x=".8" y=".8" width="121.4" height="43.4"/><text class="t" x="61.5" y="19">杨啸天-<tspan class="r">郑淼鑫</tspan></text><text class="t" x="61.5" y="38">白中盘胜</text></g>
<g id="D171" transform="translate(530,4456)"><rect class="b" x=".8" y=".8" width="121.4" height="43.4"/><text class="t" x="61.5" y="19"><tspan class="r">杨潜</tspan>-李喆</text><text class="t" x="61.5" y="38">黑胜3/4子</text></g>
<g id="D174" transform="translate(530,4534)"><rect class="b" x=".8" y=".8" width="121.4" height="43.4"/><text class="t" x="61.5" y="19"><tspan class="r">王玮</tspan>-NT</text></g>
<g id="D179" transform="translate(530,4664)"><rect class="b" x=".8" y=".8" width="121.4" height="43.4"/><text class="t" x="61.5" y="19">张涛-<tspan class="r">邱峻</tspan></text><text class="t" x="61.5" y="38">白中盘胜</text></g>
<g id="D183" transform="translate(530,4768)"><rect class="b" x=".8" y=".8" width="121.4" height="43.4"/><text class="t" x="61.5" y="19">唐奕-<tspan class="r">严欢</tspan></text><text class="t" x="61.5" y="38">白胜1又1/4子</text></g>
<g id="D187" transform="translate(530,4872)"><rect class="b" x=".8" y=".8" width="121.4" height="43.4"/><text class="t" x="61.5" y="19"><tspan class="r">柁嘉熹</tspan>-夏晨琨</text><text class="t" x="61.5" y="38">黑中盘胜</text></g>
<g id="D191" transform="translate(530,4976)"><rect class="b" x=".8" y=".8" width="121.4" height="43.4"/><text class="t" x="61.5" y="19">蔡竞-<tspan class="r">张立</tspan></text><text class="t" x="61.5" y="38">白中盘胜</text></g>
<!-- Column E -->
<g id="E8" transform="translate(702,218)"><rect class="b" x=".8" y=".8" width="121.4" height="43.4"/><text class="t" x="61.5" y="19">罗洗河-<tspan class="r">连笑</tspan></text><text class="t" x="61.5" y="38">白中盘胜</text></g>
<g id="E19" transform="translate(702,504)"><rect class="b" x=".8" y=".8" width="121.4" height="43.4"/><text class="t" x="61.5" y="19">王垚-<tspan class="r">彭荃</tspan></text><text class="t" x="61.5" y="38">白中盘胜</text></g>
<g id="E30" transform="translate(702,790)"><rect class="b" x=".8" y=".8" width="121.4" height="43.4"/><text class="t" x="61.5" y="19">李劼-<tspan class="r">谢尔豪</tspan></text><text class="t" x="61.5" y="38">白中盘胜</text></g>
<g id="E43" transform="translate(702,1128)"><rect class="b" x=".8" y=".8" width="121.4" height="43.4"/><text class="t" x="61.5" y="19"><tspan class="r">娄洛宁</tspan>-唐崇哲</text><text class="t" x="61.5" y="38">黑中盘胜</text></g>
<g id="E58" transform="translate(702,1518)"><rect class="b" x=".8" y=".8" width="121.4" height="43.4"/><text class="t" x="61.5" y="19">韩晗-<tspan class="r">周鹤洋</tspan></text><text class="t" x="61.5" y="38">白中盘胜</text></g>
<g id="E69" transform="translate(702,1804)"><rect class="b" x=".8" y=".8" width="121.4" height="43.4"/><text class="t" x="61.5" y="19"><tspan class="r">黄云嵩</tspan>-张强</text><text class="t" x="61.5" y="38">黑中盘胜</text></g>
<g id="E80" transform="translate(702,2090)"><rect class="b" x=".8" y=".8" width="121.4" height="43.4"/><text class="t" x="61.5" y="19">秦悦欣-<tspan class="r">刘星</tspan></text><text class="t" x="61.5" y="38">白中盘胜</text></g>
<g id="E91" transform="translate(702,2376)"><rect class="b" x=".8" y=".8" width="121.4" height="43.4"/><text class="t" x="61.5" y="19"><tspan class="r">党毅飞</tspan>-安冬旭</text><text class="t" x="61.5" y="38">黑中盘胜</text></g>
<g id="E106" transform="translate(702,2766)"><rect class="b" x=".8" y=".8" width="121.4" height="43.4"/><text class="t" x="61.5" y="19">杨一-<tspan class="r">邬光亚</tspan></text><text class="t" x="61.5" y="38">白中盘胜</text></g>
<g id="E118" transform="translate(702,3078)"><rect class="b" x=".8" y=".8" width="121.4" height="43.4"/><text class="t" x="61.5" y="19"><tspan class="r">陶欣然</tspan>-谢赫</text><text class="t" x="61.5" y="38">黑中盘胜</text></g>
<g id="E133" transform="translate(702,3468)"><rect class="b" x=".8" y=".8" width="121.4" height="43.4"/><text class="t" x="61.5" y="19">杨鼎新-<tspan class="r">韩一洲</tspan></text><text class="t" x="61.5" y="38">白中盘胜</text></g>
<g id="E145" transform="translate(702,3780)"><rect class="b" x=".8" y=".8" width="121.4" height="43.4"/><text class="t" x="61.5" y="19">丁伟-<tspan class="r">彭立尧</tspan></text><text class="t" x="61.5" y="38">白胜2又1/4子</text></g>
<g id="E160" transform="translate(702,4170)"><rect class="b" x=".8" y=".8" width="121.4" height="43.4"/><text class="t" x="61.5" y="19"><tspan class="r">童梦成</tspan>-郑淼鑫</text><text class="t" x="61.5" y="38">黑中盘胜</text></g>
<g id="E172" transform="translate(702,4482)"><rect class="b" x=".8" y=".8" width="121.4" height="43.4"/><text class="t" x="61.5" y="19">王玮-<tspan class="r">杨潜</tspan></text><text class="t" x="61.5" y="38">白胜2又1/4子</text></g>
<g id="E181" transform="translate(702,4716)"><rect class="b" x=".8" y=".8" width="121.4" height="43.4"/><text class="t" x="61.5" y="19"><tspan class="r">邱峻</tspan>-严欢</text><text class="t" x="61.5" y="38">黑中盘胜</text></g>
<g id="E189" transform="translate(702,4924)"><rect class="b" x=".8" y=".8" width="121.4" height="43.4"/><text class="t" x="61.5" y="19">张立-<tspan class="r">柁嘉熹</tspan></text><text class="t" x="61.5" y="38">白中盘胜</text></g>
<!-- Column F -->
<g id="F10" transform="translate(874,270)"><rect class="b" x=".8" y=".8" width="121.4" height="43.4"/><text class="t" x="61.5" y="19"><tspan class="r">连笑</tspan>-彭荃</text><text class="t" x="61.5" y="38">黑中盘胜</text></g>
<g id="F22" transform="translate(874,582)"><rect class="b" x=".8" y=".8" width="121.4" height="43.4"/><text class="t" x="61.5" y="19"><tspan class="r">时越</tspan>-NT</text></g>
<g id="F36" transform="translate(874,946)"><rect class="b" x=".8" y=".8" width="121.4" height="43.4"/><text class="t" x="61.5" y="19"><tspan class="r">谢尔豪</tspan>-娄洛宁</text><text class="t" x="61.5" y="38">黑中盘胜</text></g>
<g id="F50" transform="translate(874,1310)"><rect class="b" x=".8" y=".8" width="121.4" height="43.4"/><text class="t" x="61.5" y="19"><tspan class="r">陈耀烨</tspan>-NT</text></g>
<g id="F52" transform="translate(874,1362)"><rect class="b" x=".8" y=".8" width="121.4" height="43.4"/><text class="t" x="61.5" y="19"><tspan class="r">孟泰龄</tspan>-NT</text></g>
<g id="F64" transform="translate(874,1674)"><rect class="b" x=".8" y=".8" width="121.4" height="43.4"/><text class="t" x="61.5" y="19">黄云嵩-<tspan class="r">周鹤洋</tspan></text><text class="t" x="61.5" y="38">白中盘胜</text></g>
<g id="F86" transform="translate(874,2246)"><rect class="b" x=".8" y=".8" width="121.4" height="43.4"/><text class="t" x="61.5" y="19">党毅飞-<tspan class="r">刘星</tspan></text><text class="t" x="61.5" y="38">白胜1/4子</text></g>
<g id="F98" transform="translate(874,2558)"><rect class="b" x=".8" y=".8" width="121.4" height="43.4"/><text class="t" x="61.5" y="19"><tspan class="r">古力</tspan>-NT</text></g>
<g id="F100" transform="translate(874,2610)"><rect class="b" x=".8" y=".8" width="121.4" height="43.4"/><text class="t" x="61.5" y="19"><tspan class="r">范廷钰</tspan>-NT</text></g>
<g id="F113" transform="translate(874,2948)"><rect class="b" x=".8" y=".8" width="121.4" height="43.4"/><text class="t" x="61.5" y="19"><tspan class="r">邬光亚</tspan>-陶欣然</text><text class="t" x="61.5" y="38">黑胜2又3/4子</text></g>
<g id="F126" transform="translate(874,3286)"><rect class="b" x=".8" y=".8" width="121.4" height="43.4"/><text class="t" x="61.5" y="19"><tspan class="r">檀啸</tspan>-NT</text></g>
<g id="F139" transform="translate(874,3624)"><rect class="b" x=".8" y=".8" width="121.4" height="43.4"/><text class="t" x="61.5" y="19">彭立尧-<tspan class="r">韩一洲</tspan></text><text class="t" x="61.5" y="38">白中盘胜</text></g>
<g id="F163" transform="translate(874,4248)"><rect class="b" x=".8" y=".8" width="121.4" height="43.4"/><text class="t" x="61.5" y="19">杨潜-<tspan class="r">童梦成</tspan></text><text class="t" x="61.5" y="38">白中盘胜</text></g>
<g id="F176" transform="translate(874,4586)"><rect class="b" x=".8" y=".8" width="121.4" height="43.4"/><text class="t" x="61.5" y="19"><tspan class="r">芈昱廷</tspan>-NT</text></g>
<g id="F185" transform="translate(874,4820)"><rect class="b" x=".8" y=".8" width="121.4" height="43.4"/><text class="t" x="61.5" y="19">柁嘉熹-<tspan class="r">邱峻</tspan></text><text class="t" x="61.5" y="38">白中盘胜</text></g>
<g id="F194" transform="translate(874,5054)"><rect class="b" x=".8" y=".8" width="121.4" height="43.4"/><text class="t" x="61.5" y="19"><tspan class="r">周睿羊</tspan>-NT</text></g>
<!-- Column G -->
<g id="G11" transform="translate(1046,296)"><rect class="b" x=".8" y=".8" width="121.4" height="43.4"/><text class="t" x="61.5" y="19"><tspan class="r">连笑</tspan>-时越</text><text class="t" x="61.5" y="38">黑中盘胜</text></g>
<g id="G37" transform="translate(1046,972)"><rect class="b" x=".8" y=".8" width="121.4" height="43.4"/><text class="t" x="61.5" y="19">陈耀烨-<tspan class="r">谢尔豪</tspan></text><text class="t" x="61.5" y="38">白中盘胜</text></g>
<g id="G63" transform="translate(1046,1648)"><rect class="b" x=".8" y=".8" width="121.4" height="43.4"/><text class="t" x="61.5" y="19"><tspan class="r">孟泰龄</tspan>-周鹤洋</text><text class="t" x="61.5" y="38">黑中盘胜</text></g>
<g id="G87" transform="translate(1046,2272)"><rect class="b" x=".8" y=".8" width="121.4" height="43.4"/><text class="t" x="61.5" y="19">古力-<tspan class="r">刘星</tspan></text><text class="t" x="61.5" y="38">白胜1又1/4子</text></g>
<g id="G112" transform="translate(1046,2922)"><rect class="b" x=".8" y=".8" width="121.4" height="43.4"/><text class="t" x="61.5" y="19"><tspan class="r">范廷钰</tspan>-邬光亚</text><text class="t" x="61.5" y="38">黑胜3/4子</text></g>
<g id="G138" transform="translate(1046,3598)"><rect class="b" x=".8" y=".8" width="121.4" height="43.4"/><text class="t" x="61.5" y="19"><tspan class="r">檀啸</tspan>-韩一洲</text><text class="t" x="61.5" y="38">黑中盘胜</text></g>
<g id="G164" transform="translate(1046,4274)"><rect class="b" x=".8" y=".8" width="121.4" height="43.4"/><text class="t" x="61.5" y="19"><tspan class="r">童梦成</tspan>-芈昱廷</text><text class="t" x="61.5" y="38">黑中盘胜</text></g>
<g id="G186" transform="translate(1046,4846)"><rect class="b" x=".8" y=".8" width="121.4" height="43.4"/><text class="t" x="61.5" y="19">周睿羊-<tspan class="r">邱峻</tspan></text><text class="t" x="61.5" y="38">白中盘胜</text></g>
<!-- Column H -->
<g id="H25" transform="translate(1218,660)"><rect class="b" x=".8" y=".8" width="111.4" height="43.4"/><text class="t" x="56.5" y="19">谢尔豪 <tspan class="r">连笑</tspan></text><text class="t" x="56.5" y="38">白胜2又1/4子</text></g>
<g id="H75" transform="translate(1218,1960)"><rect class="b" x=".8" y=".8" width="111.4" height="43.4"/><text class="t" x="56.5" y="19"><tspan class="r">孟泰龄</tspan> 刘星</text><text class="t" x="56.5" y="38">黑中盘胜</text></g>
<g id="H125" transform="translate(1218,3260)"><rect class="b" x=".8" y=".8" width="111.4" height="43.4"/><text class="t" x="56.5" y="19">檀啸-<tspan class="r">范廷钰</tspan></text><text class="t" x="56.5" y="38">白中盘胜</text></g>
<g id="H173" transform="translate(1218,4508)"><rect class="b" x=".8" y=".8" width="111.4" height="43.4"/><text class="t" x="56.5" y="19"><tspan class="r">童梦成</tspan> 邱峻</text><text class="t" x="56.5" y="38">黑中盘胜</text></g>
<!-- Column I -->
<g id="I49" transform="translate(1381,1284)"><rect class="b" x=".8" y=".8" width="121.4" height="43.4"/><text class="t" x="61.5" y="19">孟泰龄-<tspan class="r">连笑</tspan></text><text class="t" x="61.5" y="38">白胜3又1/4子</text></g>
<g id="I147" transform="translate(1381,3832)"><rect class="b" x=".8" y=".8" width="121.4" height="43.4"/><text class="t" x="61.5" y="19"><tspan class="r">范廷钰</tspan>-童梦成</text><text class="t" x="61.5" y="38">黑中盘胜</text></g>
<!-- Column J -->
<g id="J97" transform="translate(1555,2532)"><rect class="b" x=".8" y=".8" width="111.4" height="43.4"/><text class="t" x="56.5" y="19">范廷钰-<tspan class="r">连笑</tspan></text><text class="t" x="56.5" y="38">白胜2又1/4子</text></g>
</svg>
